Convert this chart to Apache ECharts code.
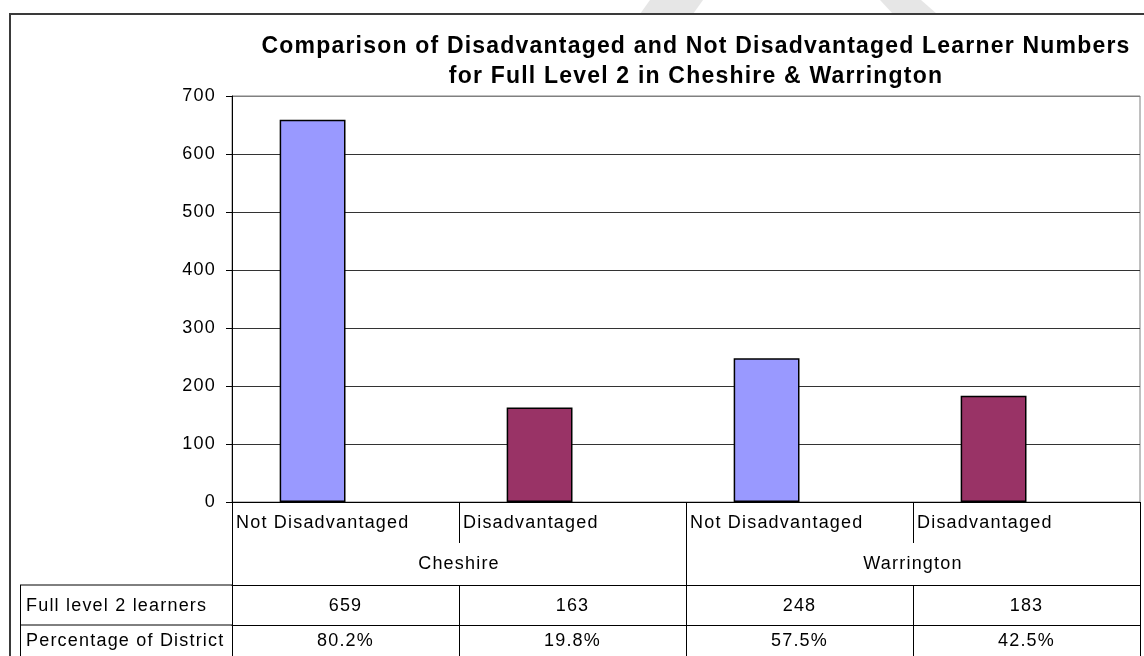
<!DOCTYPE html>
<html>
<head>
<meta charset="utf-8">
<title>Full Level 2 learners – Cheshire &amp; Warrington</title>
<script src="https://cdn.jsdelivr.net/npm/echarts@6/dist/echarts.min.js"></script>
<style>
  html, body { margin: 0; padding: 0; background: #fff; }
  #chart { width: 1144px; height: 656px; }
</style>
</head>
<body>
<div id="chart"></div>
<script>
// ---- data ----
const categories = ['Not Disadvantaged', 'Disadvantaged', 'Not Disadvantaged', 'Disadvantaged'];
const districts = ['Cheshire', 'Warrington'];
const learners = [659, 163, 248, 183];          // Full level 2 learners
const percentages = [80.2, 19.8, 57.5, 42.5];  // Percentage of District
const rowHeaders = ['Full level 2 learners', 'Percentage of District'];
const yTicks = { min: 0, max: 700, interval: 100 };
const titleLines = [
  'Comparison of Disadvantaged and Not Disadvantaged Learner Numbers',
  'for Full Level 2 in Cheshire & Warrington'
];

// ---- styling ----
const FONT = "'Liberation Sans', Arial, sans-serif";
const FS = 18;
const LETTER_SPACING = '1.2px';
const kindColor = { 'Not Disadvantaged': '#9999FF', 'Disadvantaged': '#993366' };

// Office-style text is set slightly tracked out; apply the same tracking to canvas text
(function () {
  const proto = window.CanvasRenderingContext2D && CanvasRenderingContext2D.prototype;
  if (!proto || !('letterSpacing' in proto)) return;
  const fill = proto.fillText, measure = proto.measureText;
  proto.fillText = function () { this.letterSpacing = LETTER_SPACING; return fill.apply(this, arguments); };
  proto.measureText = function () { this.letterSpacing = LETTER_SPACING; return measure.apply(this, arguments); };
})();

const W = 1144, H = 656;
const grid = { left: 232, right: 4, top: 96, bottom: 154 };
const bandW = (W - grid.left - grid.right) / categories.length;
const axisY = H - grid.bottom;           // baseline of the plot
const catRowH = 41, groupRowH = 42, tableRowH = 40;
const row1Y = axisY + catRowH + groupRowH;
const row2Y = row1Y + tableRowH;

const chart = echarts.init(document.getElementById('chart'), null, { renderer: 'canvas' });

const baseText = { fontFamily: FONT, fontSize: FS, color: '#000' };

const option = {
  backgroundColor: '#fff',
  animation: false,
  title: {
    text: titleLines.join('\n'),
    left: 696,
    top: 32,
    padding: 0,
    textAlign: 'center',
    textStyle: { fontFamily: FONT, fontSize: 23, fontWeight: 'bold', color: '#000', lineHeight: 30 }
  },
  grid: Object.assign({ show: true, borderColor: '#808080', borderWidth: 1, backgroundColor: 'transparent' }, grid),
  xAxis: [
    {
      // category row, labels left-aligned in each cell
      type: 'category',
      data: categories,
      axisLine: { show: true, lineStyle: { color: '#000', width: 1 } },
      axisTick: { show: true, length: catRowH, lineStyle: { color: '#000' } },
      axisLabel: {
        interval: 0, margin: 11,
        formatter: v => '{c|' + v + '}',
        rich: { c: Object.assign({ width: bandW - 8, align: 'left' }, baseText) }
      },
      splitLine: { show: false }
    },
    {
      // district row
      type: 'category',
      data: districts,
      position: 'bottom',
      axisLine: { show: false },
      axisTick: { show: true, length: catRowH + groupRowH, lineStyle: { color: '#000' } },
      axisLabel: Object.assign({ interval: 0, margin: 52 }, baseText),
      splitLine: { show: false }
    },
    {
      // data table: learners
      type: 'category',
      data: categories,
      position: 'bottom',
      offset: catRowH + groupRowH,
      axisLine: { show: true, lineStyle: { color: '#000', width: 1 } },
      axisTick: { show: true, length: tableRowH, lineStyle: { color: '#000' } },
      axisLabel: Object.assign({ interval: 0, margin: 11, formatter: (v, i) => String(learners[i]) }, baseText),
      splitLine: { show: false }
    },
    {
      // data table: percentages
      type: 'category',
      data: categories,
      position: 'bottom',
      offset: catRowH + groupRowH + tableRowH,
      axisLine: { show: true, lineStyle: { color: '#000', width: 1 } },
      axisTick: { show: true, length: tableRowH, lineStyle: { color: '#000' } },
      axisLabel: Object.assign({ interval: 0, margin: 6, formatter: (v, i) => percentages[i].toFixed(1) + '%' }, baseText),
      splitLine: { show: false }
    }
  ],
  yAxis: {
    type: 'value',
    min: yTicks.min, max: yTicks.max, interval: yTicks.interval,
    axisLine: { show: true, lineStyle: { color: '#000', width: 1 } },
    axisTick: { show: true, length: 6, lineStyle: { color: '#000' } },
    axisLabel: Object.assign({ margin: 16 }, baseText),
    splitLine: {
      show: true,
      lineStyle: { color: ['#000', '#333', '#333', '#333', '#333', '#333', '#333', '#808080'], width: 1 }
    }
  },
  series: [
    {
      name: rowHeaders[0],
      type: 'bar',
      xAxisIndex: 0,
      barWidth: '29%',
      barGap: '0%',
      data: learners.map((v, i) => ({
        value: v,
        itemStyle: { color: kindColor[categories[i]] }
      })),
      itemStyle: { borderColor: '#000', borderWidth: 1.5 }
    },
    {
      // percentage series shares the category slots; at this scale its bars stay flat on the baseline
      name: rowHeaders[1],
      type: 'bar',
      xAxisIndex: 0,
      barWidth: '29%',
      silent: true,
      data: percentages.map(p => p / 100),
      itemStyle: { color: 'transparent', borderWidth: 0 }
    }
  ],
  graphic: [
    // faint page watermark above the chart frame
    { type: 'polygon', silent: true, z: -10, shape: { points: [[650, 0], [703, 0], [693, 14], [640, 14]] }, style: { fill: '#e6e6e6' } },
    { type: 'polygon', silent: true, z: -10, shape: { points: [[880, 0], [921, 0], [937, 14], [893, 14]] }, style: { fill: '#e6e6e6' } },
    // chart frame
    { type: 'rect', silent: true, z: -5, shape: { x: 10, y: 14, width: 1200, height: 800 }, style: { fill: '#fff', stroke: '#3a3a3a', lineWidth: 2 } },
    // data table header cells
    { type: 'line', silent: true, shape: { x1: 20, y1: row1Y, x2: grid.left, y2: row1Y }, style: { stroke: '#000', lineWidth: 1 } },
    { type: 'line', silent: true, shape: { x1: 20, y1: row2Y, x2: grid.left, y2: row2Y }, style: { stroke: '#000', lineWidth: 1 } },
    { type: 'line', silent: true, shape: { x1: 20.5, y1: row1Y, x2: 20.5, y2: H + 20 }, style: { stroke: '#000', lineWidth: 1 } },
    { type: 'text', silent: true, left: 26, top: row1Y + 11,
      style: { text: rowHeaders[0], font: FS + 'px ' + FONT, fill: '#000' } },
    { type: 'text', silent: true, left: 26, top: row2Y + 6,
      style: { text: rowHeaders[1], font: FS + 'px ' + FONT, fill: '#000' } }
  ]
};

chart.setOption(option);
</script>
</body>
</html>
